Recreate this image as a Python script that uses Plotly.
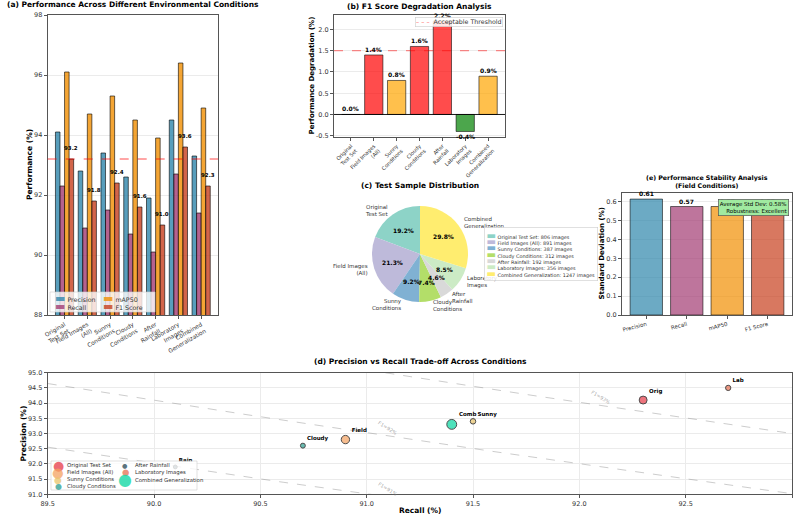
import numpy as np
import plotly.graph_objects as go

# ---------------- data ----------------
categories = ["Original Test Set", "Field Images (All)", "Sunny Conditions", "Cloudy Conditions",
              "After Rainfall", "Laboratory Images", "Combined Generalization"]
tick_labels = ["Original<br>Test Set", "Field Images<br>(All)", "Sunny<br>Conditions", "Cloudy<br>Conditions",
               "After<br>Rainfall", "Laboratory<br>Images", "Combined<br>Generalization"]
short_labels = ["Orig", "Field", "Sunny", "Cloudy", "Rain", "Lab", "Comb"]
precision = [94.1, 92.8, 93.4, 92.6, 91.9, 94.5, 93.3]
recall = [92.3, 90.9, 91.5, 90.7, 90.1, 92.7, 91.4]
map50 = [96.1, 94.7, 95.3, 94.5, 93.9, 96.4, 94.9]
f1_score = [93.2, 91.8, 92.4, 91.6, 91.0, 93.6, 92.3]
sample_counts = [806, 891, 387, 312, 192, 356, 1247]
metric_names = ["Precision", "Recall", "mAP50", "F1 Score"]
field_condition_idx = [2, 3, 4]
threshold = 1.5
f1_levels = [91, 92, 93]

# ---------------- styles ----------------
FONT = "DejaVu Sans"
W, H = 799, 514
metric_colors = ["#2E86AB", "#A23B72", "#F18F01", "#C73E1D"]
pie_colors = ["#8dd3c7", "#bebada", "#80b1d3", "#b3de69", "#d9d9d9", "#ccebc5", "#ffed6f"]
scatter_colors = ["#E63946", "#F4A261", "#E9C46A", "#2A9D8F", "#264653", "#E76F51", "#06D6A0"]
AX = "#555555"
GRID = "#ebebeb"


def rgba(hexc, a):
    hexc = hexc.lstrip("#")
    r, g, b = int(hexc[0:2], 16), int(hexc[2:4], 16), int(hexc[4:6], 16)
    return f"rgba({r},{g},{b},{a})"


def px(x):
    return x / W


def py(y):
    return 1 - y / H


idx = list(range(len(categories)))
metrics = [precision, recall, map50, f1_score]
baseline = f1_score[0]
degradation = [round(baseline - v, 1) for v in f1_score]
deg_colors = []
for d in degradation:
    if d > 1.0:
        deg_colors.append("rgba(255,0,0,0.7)")
    elif d >= 0:
        deg_colors.append("rgba(255,165,0,0.7)")
    else:
        deg_colors.append("rgba(0,128,0,0.7)")
field_std = [float(np.std([m[i] for i in field_condition_idx])) for m in metrics]
avg_std = float(np.mean(field_std))
total = float(sum(sample_counts))

fig = go.Figure()

# (a) grouped bars
for name, vals, col in zip(metric_names, metrics, metric_colors):
    fig.add_trace(go.Bar(x=idx, y=vals, name=name, xaxis="x", yaxis="y",
                         marker=dict(color=rgba(col, 0.8), line=dict(color="rgba(0,0,0,0.75)", width=0.8)),
                         showlegend=False))

# (b) degradation bars
fig.add_trace(go.Bar(x=idx, y=degradation, xaxis="x2", yaxis="y2",
                     marker=dict(color=deg_colors, line=dict(color="rgba(0,0,0,0.7)", width=0.8)),
                     showlegend=False))

# (e) std dev bars
fig.add_trace(go.Bar(x=list(range(len(metric_names))), y=field_std, xaxis="x3", yaxis="y3",
                     marker=dict(color=[rgba(c, 0.7) for c in metric_colors],
                                 line=dict(color="rgba(0,0,0,0.7)", width=0.8)),
                     showlegend=False))

# (d) F1 iso-lines
rgrid = np.linspace(89.5, 93.0, 200)
for f in f1_levels:
    pvals = f * rgrid / (2 * rgrid - f)
    fig.add_trace(go.Scatter(x=rgrid, y=pvals, mode="lines", xaxis="x4", yaxis="y4",
                             line=dict(color="rgba(128,128,128,0.5)", width=0.8, dash="dash"),
                             showlegend=False, hoverinfo="skip"))

marker_sizes = [0.28 * np.sqrt(c) for c in sample_counts]
fig.add_trace(go.Scatter(x=recall, y=precision, mode="markers+text", xaxis="x4", yaxis="y4",
                         text=short_labels, texttemplate="<b>%{text}</b>", textposition="top right",
                         textfont=dict(size=5.5, color="black", family=FONT),
                         marker=dict(size=marker_sizes, color=scatter_colors, opacity=0.7,
                                     line=dict(color="black", width=1)),
                         cliponaxis=False, showlegend=False))

# (c) pie: starts at 12 o'clock, counter-clockwise
PIE_CX, PIE_CY, PIE_R = 420, 254, 48
pie_dom = dict(x=[px(PIE_CX - PIE_R), px(PIE_CX + PIE_R)], y=[py(PIE_CY + PIE_R), py(PIE_CY - PIE_R)])
fig.add_trace(go.Pie(values=sample_counts, labels=categories, domain=pie_dom, sort=False,
                     direction="counterclockwise", rotation=-360 * sample_counts[0] / total,
                     marker=dict(colors=pie_colors, line=dict(width=0)),
                     textinfo="none", showlegend=False, hoverinfo="skip"))


def axis_common(**kw):
    d = dict(showline=True, mirror=True, linecolor=AX, linewidth=1, ticks="outside", ticklen=3,
             tickcolor=AX, tickwidth=0.8, tickfont=dict(size=6.5, color="#333", family=FONT),
             automargin=False, zeroline=False, showgrid=False, gridcolor=GRID, gridwidth=0.8)
    d.update(kw)
    return d


deg_ticks = [round(v, 1) for v in np.arange(-0.5, 2.01, 0.5)]
std_ticks = [round(v, 1) for v in np.arange(0, 0.61, 0.1)]

annotations = []


def text_ann(x, y, text, size=7, bold=True, angle=0, xanchor="center", yanchor="middle",
             xref="paper", yref="paper", color="black", align="center", **kw):
    a = dict(x=x, y=y, xref=xref, yref=yref, text=f"<b>{text}</b>" if bold else text,
             showarrow=False, textangle=angle, xanchor=xanchor, yanchor=yanchor, align=align,
             font=dict(size=size, color=color, family=FONT))
    a.update(kw)
    annotations.append(a)


# titles
text_ann(px(133), py(5), "(a) Performance Across Different Environmental Conditions", size=7.5)
text_ann(px(419.5), py(6.5), "(b) F1 Score Degradation Analysis", size=7.5)
text_ann(px(420), py(185.7), "(c) Test Sample Distribution", size=7.5)
text_ann(px(707), py(181), "(e) Performance Stability Analysis<br>(Field Conditions)", size=6.3)
text_ann(px(420), py(361), "(d) Precision vs Recall Trade-off Across Conditions", size=7.5)

# axis titles
text_ann(px(30), py(165), "Performance (%)", size=7.5, angle=-90)
text_ann(px(311.5), py(76), "Performance Degradation (%)", size=7, angle=-90)
text_ann(px(601.5), py(254), "Standard Deviation (%)", size=7, angle=-90)
text_ann(px(23), py(433.5), "Precision (%)", size=7.5, angle=-90)
text_ann(px(420), py(510), "Recall (%)", size=7.5)

# (a) F1 value labels
for i, v in enumerate(f1_score):
    text_ann(i + 0.3, v + 0.2, f"{v:.1f}", size=5.5, xref="x", yref="y", yanchor="bottom")

# (b) degradation labels
for i, v in enumerate(degradation):
    text_ann(i, v, f"{v:.1f}%", size=6, xref="x2", yref="y2",
             yanchor="bottom" if v >= 0 else "top")

# (b) legend
annotations.append(dict(x=px(503), y=py(17), xref="paper", yref="paper", xanchor="right", yanchor="top",
                        showarrow=False, align="left", bgcolor="rgba(255,255,255,0.85)",
                        bordercolor="#cccccc", borderwidth=0.6, borderpad=0.5,
                        text="<span style='color:rgba(255,0,0,0.7)'>– – –</span>  Acceptable Threshold",
                        font=dict(size=6.3, color="#333", family=FONT)))

# (e) value labels
for i, v in enumerate(field_std):
    text_ann(i, v, f"{v:.2f}", size=6, xref="x3", yref="y3", yanchor="bottom")
robust = "Excellent" if avg_std < 1.0 else "Good"
annotations.append(dict(x=0.985, y=0.95, xref="x3 domain", yref="y3 domain", xanchor="right", yanchor="top",
                        showarrow=False, align="right", bgcolor="rgb(160,234,160)",
                        bordercolor="#555", borderwidth=0.7, borderpad=1,
                        text=f"Average Std Dev: {avg_std:.2f}%<br>Robustness: {robust}",
                        font=dict(size=5.5, color="black", family=FONT)))

# (c) pie labels (percent inside, names outside), following slice angles
cum = 0.0
for k, v in enumerate(sample_counts):
    frac = v / total
    mid = np.deg2rad(90 + 360 * (cum + frac / 2))
    cum += frac
    cx, cy = np.cos(mid), np.sin(mid)
    text_ann(px(PIE_CX + 0.6 * PIE_R * cx), py(PIE_CY - 0.6 * PIE_R * cy), f"{100 * frac:.1f}%", size=6)
    side_left = cx < 0
    text_ann(px(PIE_CX + 1.1 * PIE_R * cx), py(PIE_CY - 1.1 * PIE_R * cy), tick_labels[k], size=5.5,
             bold=False, color="#333", xanchor="right" if side_left else "left",
             align="right" if side_left else "left")

# (d) iso-line labels
label_recall = [91.1, 91.1, 92.1]
for f, r in zip(f1_levels, label_recall):
    p = f * r / (2 * r - f)
    text_ann(r, p + 0.27, f"F1={f}%", size=5, bold=False, angle=32, xref="x4", yref="y4",
             color="rgba(128,128,128,0.7)")

# (a) legend (two columns)
SW = "▬"
col_a1 = "<br>".join(f"<span style='color:{rgba(metric_colors[k], 0.8)};font-size:11px'>{SW}</span> {metric_names[k]}"
                     for k in [0, 1])
col_a2 = "<br>".join(f"<span style='color:{rgba(metric_colors[k], 0.8)};font-size:11px'>{SW}</span> {metric_names[k]}"
                     for k in [2, 3])
annotations.append(dict(x=px(53), y=py(302), xref="paper", yref="paper", xanchor="left", yanchor="middle",
                        showarrow=False, align="left", text=col_a1, font=dict(size=6.3, color="#333", family=FONT)))
annotations.append(dict(x=px(101), y=py(302), xref="paper", yref="paper", xanchor="left", yanchor="middle",
                        showarrow=False, align="left", text=col_a2, font=dict(size=6.3, color="#333", family=FONT)))

# (c) legend
pie_leg = "<br>".join(f"<span style='color:{pie_colors[k]};font-size:10px'>{SW}</span> {categories[k]}: {sample_counts[k]} images"
                      for k in range(len(categories)))
annotations.append(dict(x=px(484), y=py(253.5), xref="paper", yref="paper", xanchor="left", yanchor="middle",
                        showarrow=False, align="left", text=pie_leg, bgcolor="rgba(255,255,255,0.85)",
                        bordercolor="#cccccc", borderwidth=0.6, borderpad=2,
                        font=dict(size=4.9, color="#333", family=FONT)))

# (d) legend: two columns, one row per entry
leg_cols = [[0, 1, 2, 3], [4, 5, 6]]
leg_x = [(58.3, 66), (125, 134)]
row_y0, row_dy = 465, 7.3
for cols, (mx, tx) in zip(leg_cols, leg_x):
    for r, k in enumerate(cols):
        yy = py(row_y0 + r * row_dy)
        annotations.append(dict(x=px(mx), y=yy, xref="paper", yref="paper", xanchor="center", yanchor="middle",
                                showarrow=False, borderpad=0,
                                text=f"<span style='color:{rgba(scatter_colors[k], 0.75)}'>●</span>",
                                font=dict(size=marker_sizes[k] / 0.62, color="#333", family=FONT)))
        annotations.append(dict(x=px(tx), y=yy, xref="paper", yref="paper", xanchor="left", yanchor="middle",
                                showarrow=False, borderpad=0, text=categories[k],
                                font=dict(size=5.4, color="#333", family=FONT)))

shapes = [
    # (a) baseline
    dict(type="line", xref="x domain", yref="y", x0=0, x1=1, y0=baseline, y1=baseline,
         line=dict(color="rgba(255,0,0,0.7)", width=1, dash="dash")),
    # (b) zero line and threshold
    dict(type="line", xref="x2 domain", yref="y2", x0=0, x1=1, y0=0, y1=0,
         line=dict(color="black", width=0.9)),
    dict(type="line", xref="x2 domain", yref="y2", x0=0, x1=1, y0=threshold, y1=threshold,
         line=dict(color="rgba(255,0,0,0.7)", width=0.8, dash="dash")),
    # legend frames
    dict(type="rect", xref="paper", yref="paper", x0=px(50), x1=px(155), y0=py(312), y1=py(292),
         fillcolor="rgba(255,255,255,0.8)", line=dict(color="#cccccc", width=0.6), layer="above"),
    dict(type="rect", xref="paper", yref="paper", x0=px(51), x1=px(197), y0=py(490), y1=py(461),
         fillcolor="rgba(255,255,255,0.8)", line=dict(color="#cccccc", width=0.6), layer="above"),
]

fig.update_layout(
    width=W, height=H, margin=dict(l=0, r=0, t=0, b=0), template="none",
    paper_bgcolor="white", plot_bgcolor="white", showlegend=False,
    font=dict(family=FONT, size=6.5, color="#333"),
    barmode="group", bargap=0.2, bargroupgap=0,
    xaxis=axis_common(domain=[px(47.7), px(218)], range=[-0.74, 6.74], tickvals=idx, ticktext=tick_labels,
                      tickangle=-30, anchor="y", tickfont=dict(size=5.8, color="#333", family=FONT)),
    yaxis=axis_common(domain=[py(315), py(15)], range=[88, 98], dtick=2, anchor="x", showgrid=True),
    xaxis2=axis_common(domain=[px(334), px(505)], range=[-0.74, 6.74], tickvals=idx, ticktext=tick_labels,
                       tickangle=-45, anchor="y2", tickfont=dict(size=5.2, color="#333", family=FONT)),
    yaxis2=axis_common(domain=[py(137), py(15)], range=[-0.53, 2.34], tickvals=deg_ticks,
                       ticktext=[f"{v:.1f}" for v in deg_ticks], anchor="x2", showgrid=True),
    xaxis3=axis_common(domain=[px(622), px(792)], range=[-0.6, 3.6], tickvals=list(range(4)),
                       ticktext=metric_names, tickangle=-15, anchor="y3",
                       tickfont=dict(size=5.5, color="#333", family=FONT)),
    yaxis3=axis_common(domain=[py(315), py(193)], range=[0, 0.645], tickvals=std_ticks,
                       ticktext=[f"{v:.1f}" for v in std_ticks], anchor="x3", showgrid=True),
    xaxis4=axis_common(domain=[px(47.7), px(792)], range=[89.5, 93.0], dtick=0.5, tickformat=".1f",
                       anchor="y4", showgrid=True),
    yaxis4=axis_common(domain=[py(494.3), py(372.7)], range=[91, 95], dtick=0.5, tickformat=".1f",
                       anchor="x4", showgrid=True),
    annotations=annotations,
    shapes=shapes,
)

fig.write_html("out.html")
